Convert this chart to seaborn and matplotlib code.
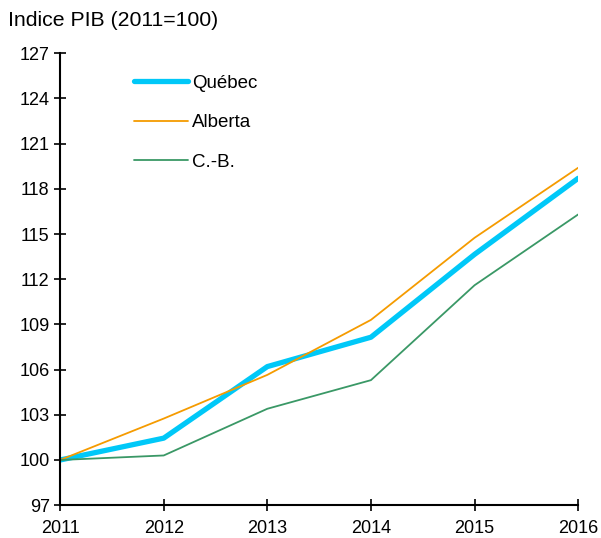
import pandas as pd
import numpy as np
import matplotlib
matplotlib.use("Agg")
import matplotlib.pyplot as plt
import seaborn as sns

years = [2011, 2012, 2013, 2014, 2015, 2016]
quebec = [100.0, 101.45, 106.2, 108.15, 113.65, 118.7]
alberta = [100.0, 102.75, 105.65, 109.3, 114.75, 119.4]
cb = [100.0, 100.3, 103.4, 105.3, 111.6, 116.3]
series_names = ["Québec", "Alberta", "C.-B."]
yticks = list(range(97, 128, 3))

df = pd.DataFrame({"year": years * 3,
                   "value": quebec + alberta + cb,
                   "region": np.repeat(series_names, len(years))})

sns.set_style("white")
plt.rcParams['font.family'] = ['Liberation Sans', 'DejaVu Sans']
plt.rcParams['text.color'] = 'black'

colors = {"Québec": "#00C8F8", "Alberta": "#F59B00", "C.-B.": "#3A9866"}
widths = {"Québec": 3.8, "Alberta": 1.3, "C.-B.": 1.3}

fig = plt.figure(figsize=(6.01, 5.38), dpi=100)
ax = fig.add_axes([0.1, 0.061, 0.862, 0.840])

for name in series_names:
    sub = df[df["region"] == name]
    sns.lineplot(data=sub, x="year", y="value", ax=ax, color=colors[name],
                 linewidth=widths[name], label=name)

ax.set_xlim(2011, 2016)
ax.set_ylim(97, 127)
ax.set_yticks(yticks)
ax.set_xticks(years)
ax.set_xlabel("")
ax.set_ylabel("")
ax.tick_params(axis="both", direction="inout", length=9, width=1.2,
               labelsize=13, colors="black", labelcolor="black", pad=3,
               bottom=True, left=True)
ax.tick_params(axis="x", pad=6)
for s in ["top", "right"]:
    ax.spines[s].set_visible(False)
for s in ["left", "bottom"]:
    ax.spines[s].set_color("black")
    ax.spines[s].set_linewidth(1.5)

leg = ax.legend(loc="upper left", bbox_to_anchor=(0.11, 0.99), frameon=False,
                fontsize=13.5, handlelength=2.9, handletextpad=0.2, labelspacing=1.2)
for t in leg.get_texts():
    t.set_color("black")

fig.text(0.013, 0.962, "Indice PIB (2011=100)", fontsize=15.3, ha="left", va="center",
         color="black")

fig.savefig("out.png", dpi=100)
